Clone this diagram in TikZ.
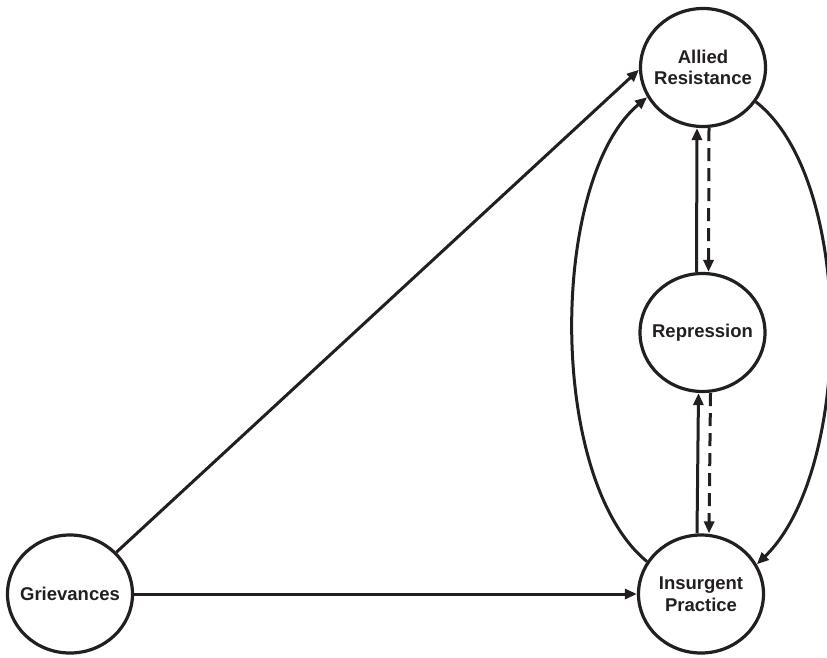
\documentclass[tikz,border=0pt]{standalone}
\usepackage{fontspec}
\setmainfont{Liberation Sans}
\usetikzlibrary{arrows.meta,shapes.geometric}
\definecolor{ink}{RGB}{35,31,32}
\begin{document}
\begin{tikzpicture}[x=1pt,y=-1pt,
  state/.style={ellipse,draw=ink,line width=3.2pt,minimum width=125pt,minimum height=118pt,inner xsep=-8pt,inner ysep=0pt,align=center,font=\fontsize{18.5}{21.5}\selectfont\bfseries,text=ink},
  conn/.style={draw=ink,line width=3pt,-{Triangle[length=12pt,width=10pt]}},
  dashconn/.style={conn,dash pattern=on 13pt off 7pt}]
\useasboundingbox (0,0) rectangle (827,657);
\node[state] (ar) at (703,67.5) {Allied\\Resistance};
\node[state] (rep) at (702.5,332.5) {Repression};
\node[state] (ip) at (701,594) {Insurgent\\Practice};
\node[state] (gr) at (70,594) {Grievances};
% straight connectors
\draw[conn] (gr.42) -- (ar.182);
\draw[conn] (gr.east) -- (ip.west);
% vertical pairs
\draw[conn] ([xshift=-6pt]rep.north) -- ([xshift=-6pt]ar.south);
\draw[dashconn] ([xshift=6pt]ar.south) -- ([xshift=6pt]rep.north);
\draw[conn] ([xshift=-4pt]ip.north) -- ([xshift=-4pt]rep.south);
\draw[dashconn] ([xshift=8pt]rep.south) -- ([xshift=8pt]ip.north);
% arcs
\draw[conn] (ip.149) .. controls +(-100,-82) and +(-98,82) .. (ar.208);
\draw[conn] (ar.-33) .. controls +(100,78) and +(96,-93) .. (ip.28);
\end{tikzpicture}
\end{document}
